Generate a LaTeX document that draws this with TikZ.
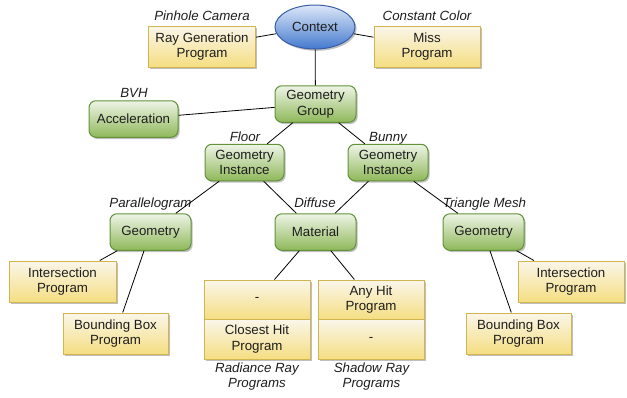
\documentclass[tikz,border=0pt]{standalone}
\usepackage{fontspec}
\setmainfont{Liberation Sans}
\usetikzlibrary{shadows,shapes.geometric}
\definecolor{progtop}{HTML}{FAF6EA}
\definecolor{progbot}{HTML}{F5DE82}
\definecolor{progborder}{HTML}{D0B550}
\definecolor{grntop}{HTML}{EEF4E6}
\definecolor{grnbot}{HTML}{8FB85A}
\definecolor{grnborder}{HTML}{62923A}
\definecolor{blutop}{HTML}{DDE7F8}
\definecolor{blubot}{HTML}{4479CE}
\definecolor{bluborder}{HTML}{3A5EA6}
\definecolor{txt}{HTML}{1E1E1E}
\tikzset{
  basefont/.style={font=\fontsize{13.3}{15.5}\selectfont, text=txt},
  shad/.style={drop shadow={shadow xshift=1.6pt, shadow yshift=-1.8pt, opacity=0.42, fill=black!60}},
  prog/.style={basefont, shad, draw=progborder, line width=1pt, top color=progtop, bottom color=progbot,
    align=center, inner sep=0pt, minimum width=107pt, minimum height=41pt},
  cell/.style={basefont, draw=progborder, line width=1pt, top color=progtop, bottom color=progbot,
    align=center, inner sep=0pt, minimum width=106pt, minimum height=39.5pt},
  grn/.style={basefont, shad, draw=grnborder, line width=1pt, top color=grntop, bottom color=grnbot,
    rounded corners=7pt, align=center, inner sep=0pt, minimum width=81pt, minimum height=36.5pt},
  ctx/.style={basefont, shad, ellipse, draw=bluborder, line width=1pt, top color=blutop, bottom color=blubot,
    inner sep=0pt, minimum width=80pt, minimum height=44pt},
  lbl/.style={font=\fontsize{13.3}{15.5}\selectfont\itshape, text=txt, inner sep=0pt, anchor=base, align=center},
  lbltop/.style={font=\fontsize{13.3}{15.5}\selectfont\itshape, text=txt, inner sep=0pt, anchor=north, align=center},
  conn/.style={draw=black, line width=0.8pt},
}
\begin{document}
\begin{tikzpicture}[x=1pt,y=-1pt]
\useasboundingbox (0,0) rectangle (627,397);
% nodes
\node[ctx] (ctx) at (315,27) {Context};
\node[prog] (raygen) at (202,46.5) {Ray Generation\\Program};
\node[prog, minimum width=106pt] (miss) at (427,46.5) {Miss\\Program};
\node[grn] (gg) at (315.5,104) {Geometry\\Group};
\node[grn, minimum width=89pt] (accel) at (133.5,119) {Acceleration};
\node[grn, minimum width=79pt] (gifloor) at (244.5,162.5) {Geometry\\Instance};
\node[grn, minimum width=80pt] (gibunny) at (388,162.5) {Geometry\\Instance};
\node[grn] (geoL) at (150.5,232) {Geometry};
\node[grn] (mat) at (315.5,232) {Material};
\node[grn] (geoR) at (483.5,232) {Geometry};
\node[prog] (isL) at (62.5,281.5) {Intersection\\Program};
\node[prog, minimum width=105pt] (bbL) at (115.5,333.5) {Bounding Box\\Program};
\node[prog, minimum width=106pt] (isR) at (571,281.5) {Intersection\\Program};
\node[prog, minimum width=105pt] (bbR) at (518.5,333.5) {Bounding Box\\Program};
% ray program tables
\fill[black!60, opacity=0.42] (205.6,281.8) rectangle (311.6,360.8);
\fill[black!60, opacity=0.42] (319.6,281.8) rectangle (425.6,360.8);
\node[cell] (rad1) at (257,299.75) {-};
\node[cell] (rad2) at (257,339.25) {Closest Hit\\Program};
\node[cell] (sha1) at (371,299.75) {Any Hit\\Program};
\node[cell] (sha2) at (371,339.25) {-};
% labels
\node[lbl] (lpin) at (202,20) {Pinhole Camera};
\node[lbl] (lcol) at (427,20) {Constant Color};
\node[lbl] (lbvh) at (134,97) {BVH};
\node[lbl] (lflo) at (245,141.5) {Floor};
\node[lbl] (lbun) at (388,141.5) {Bunny};
\node[lbl] (lpar) at (150.5,207) {Parallelogram};
\node[lbl] (ldif) at (315,207) {Diffuse};
\node[lbl] (ltri) at (484.5,207) {Triangle Mesh};
\node[lbltop] (lrad) at (257,362.5) {Radiance Ray\\Programs};
\node[lbltop] (lsha) at (371.5,362.5) {Shadow Ray\\Programs};
% connectors
\draw[conn] (ctx) -- (raygen);
\draw[conn] (ctx) -- (miss);
\draw[conn] (ctx) -- (gg);
\draw[conn] (gg) -- (accel);
\draw[conn] (gg) -- (gifloor);
\draw[conn] (gg) -- (gibunny);
\draw[conn] (gifloor) -- (geoL);
\draw[conn] (gifloor) -- (mat);
\draw[conn] (gibunny) -- (mat);
\draw[conn] (gibunny) -- (geoR);
\draw[conn] (geoL) -- (isL);
\draw[conn] (geoL) -- (bbL);
\draw[conn] (mat) -- (rad1);
\draw[conn] (mat) -- (sha1);
\draw[conn] (geoR) -- (isR);
\draw[conn] (geoR) -- (bbR);
\end{tikzpicture}
\end{document}
